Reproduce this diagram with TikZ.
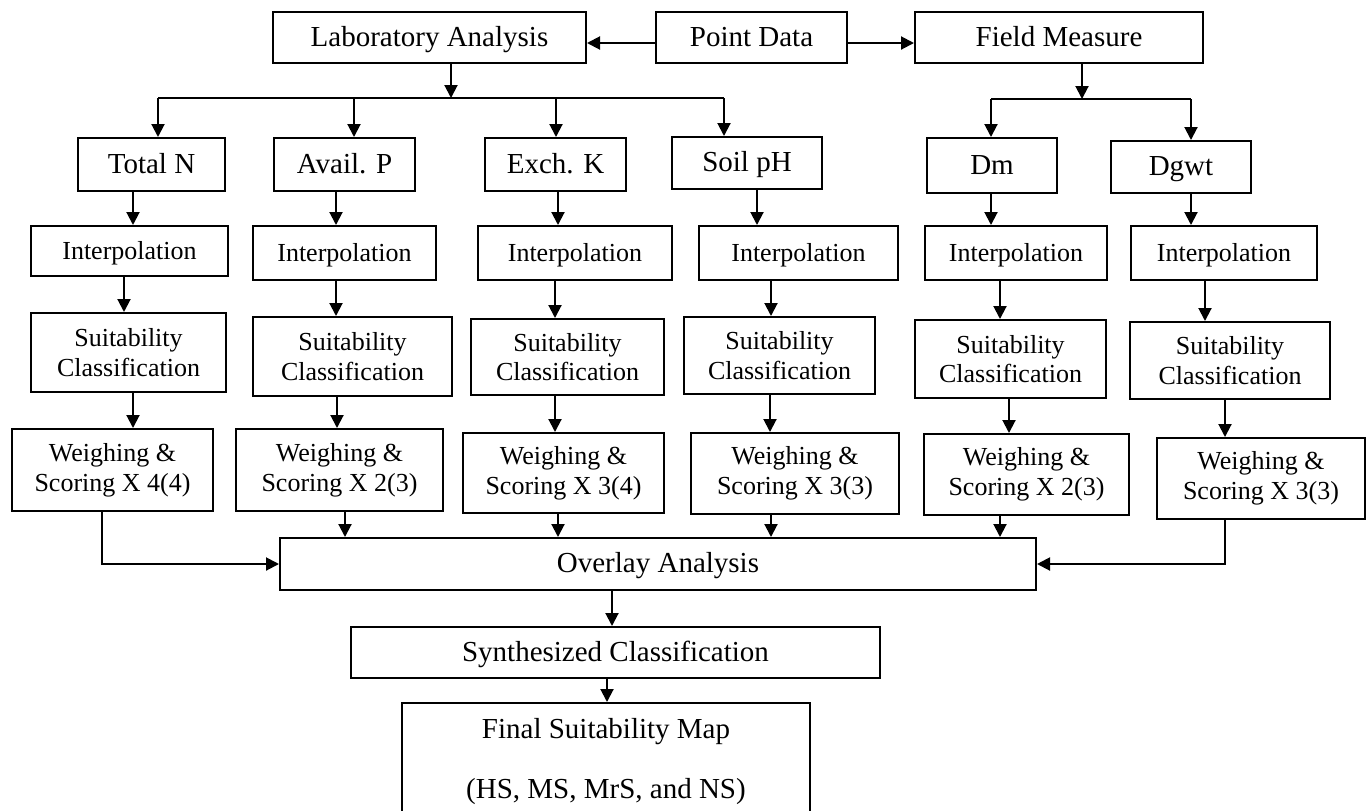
\documentclass[tikz,border=0pt]{standalone}
\usepackage{fontspec}
\setmainfont{Liberation Serif}
\usetikzlibrary{arrows.meta, positioning, calc}

\tikzset{
  box/.style={draw, line width=1pt, inner sep=2pt, align=center,
              font=\fontsize{13}{14.8}\selectfont},
  oneline/.style={text height=0.86em, text depth=0pt},
  mainbox/.style={box, oneline, font=\fontsize{14.5}{17}\selectfont},
  sz/.style 2 args={minimum width=0.5pt*#1, minimum height=0.5pt*#2},
  arr/.style={line width=1pt, -{Triangle[length=6.5pt,width=6.5pt]}},
  ln/.style={line width=1pt}
}

\begin{document}
\begin{tikzpicture}[x=0.5pt, y=-0.5pt]
  \clip (0,0) rectangle (1371,810);

  % sources
  \node[mainbox, sz={313}{51}] (lab) at (429.5,37.5) {Laboratory Analysis};
  \node[mainbox, sz={191}{51}] (pd)  at (751.5,37.5) {Point Data};
  \node[mainbox, sz={288}{51}] (fm)  at (1059,37.5)  {Field Measure};

  % parameters
  \node[mainbox, sz={147}{53}] (tn) at (151.5,164.5) {Total N};
  \node[mainbox, sz={141}{53}] (ap) at (344.5,164.5) {Avail. P};
  \node[mainbox, sz={141}{53}] (ek) at (555.5,164.5) {Exch. K};
  \node[mainbox, sz={150}{52}] (sp) at (747,163)     {Soil pH};
  \node[mainbox, sz={130}{55}] (dm) at (992,165.5)   {Dm};
  \node[mainbox, sz={140}{52}] (dg) at (1181,167)    {Dgwt};

  % interpolation
  \node[box, oneline, sz={197}{50}] (tni) at (129.5,251) {Interpolation};
  \node[box, oneline, sz={183}{54}] (api) at (344.5,253) {Interpolation};
  \node[box, oneline, sz={194}{54}] (eki) at (575,253)   {Interpolation};
  \node[box, oneline, sz={199}{54}] (spi) at (798.5,253) {Interpolation};
  \node[box, oneline, sz={182}{54}] (dmi) at (1016,253)  {Interpolation};
  \node[box, oneline, sz={186}{54}] (dgi) at (1224,253)  {Interpolation};

  % suitability classes
  \node[box, sz={195}{79}] (tns) at (128.5,352.5) {Suitability\\Classification};
  \node[box, sz={199}{79}] (aps) at (352.5,356.5) {Suitability\\Classification};
  \node[box, sz={193}{76}] (eks) at (567.5,357)   {Suitability\\Classification};
  \node[box, sz={191}{77}] (sps) at (779.5,355.5) {Suitability\\Classification};
  \node[box, sz={191}{78}] (dms) at (1010.5,359)  {Suitability\\Classification};
  \node[box, sz={200}{77}] (dgs) at (1230,360.5)  {Suitability\\Classification};

  % weights
  \node[box, sz={201}{82}] (tnw) at (112.5,470)  {Weighing \&\\Scoring X 4(4)};
  \node[box, sz={207}{82}] (apw) at (339.5,470)  {Weighing \&\\Scoring X 2(3)};
  \node[box, sz={201}{80}] (ekw) at (563.5,473)  {Weighing \&\\Scoring X 3(4)};
  \node[box, sz={208}{81}] (spw) at (795,473.5)  {Weighing \&\\Scoring X 3(3)};
  \node[box, sz={205}{81}] (dmw) at (1026.5,474.5) {Weighing \&\\Scoring X 2(3)};
  \node[box, sz={208}{81}] (dgw) at (1261,478.5) {Weighing \&\\Scoring X 3(3)};

  % overlay and output
  \node[mainbox, sz={756}{52}] (ov)  at (658,564)    {Overlay Analysis};
  \node[mainbox, sz={529}{51}] (syn) at (615.5,652.5) {Synthesized Classification};
  \node[box, sz={408}{118}, font=\fontsize{14.5}{30}\selectfont]
       (fin) at (606,762) {Final Suitability Map\\(HS, MS, MrS, and NS)};

  % point data split
  \draw[arr] (pd.west |- 0,43) -- (lab.east |- 0,43);
  \draw[arr] (pd.east |- 0,43) -- (fm.west |- 0,43);

  % lab branch
  \coordinate (lbus) at (451,98);
  \draw[arr] (lab.south -| lbus) -- (lbus);
  \draw[ln] (lbus -| 158,0) -- (lbus -| 724,0);
  \foreach \n/\x in {tn/158, ap/354, ek/556, sp/724}
    \draw[arr] (lbus -| \x,0) -- (\n.north -| \x,0);

  % field branch
  \coordinate (fbus) at (1082,99);
  \draw[arr] (fm.south -| fbus) -- (fbus);
  \draw[ln] (fbus -| 991,0) -- (fbus -| 1191,0);
  \foreach \n/\x in {dm/991, dg/1191}
    \draw[arr] (fbus -| \x,0) -- (\n.north -| \x,0);

  % column flows
  \foreach \a/\b/\x in {tn/tni/133, tni/tns/124, tns/tnw/133,
                        ap/api/336, api/aps/336, aps/apw/337, apw/ov/345,
                        ek/eki/558, eki/eks/555, eks/ekw/555, ekw/ov/558,
                        sp/spi/757, spi/sps/771, sps/spw/770, spw/ov/771,
                        dm/dmi/991, dmi/dms/1000, dms/dmw/1009, dmw/ov/1000,
                        dg/dgi/1191, dgi/dgs/1205, dgs/dgw/1225}
    \draw[arr] (\a.south -| \x,0) -- (\b.north -| \x,0);

  \draw[arr] (tnw.south -| 102,0) |- (ov.west);
  \draw[arr] (dgw.south -| 1225,0) |- (ov.east);

  \draw[arr] (ov.south -| 612,0) -- (syn.north -| 612,0);
  \draw[arr] (syn.south -| 607,0) -- (fin.north -| 607,0);
\end{tikzpicture}
\end{document}
